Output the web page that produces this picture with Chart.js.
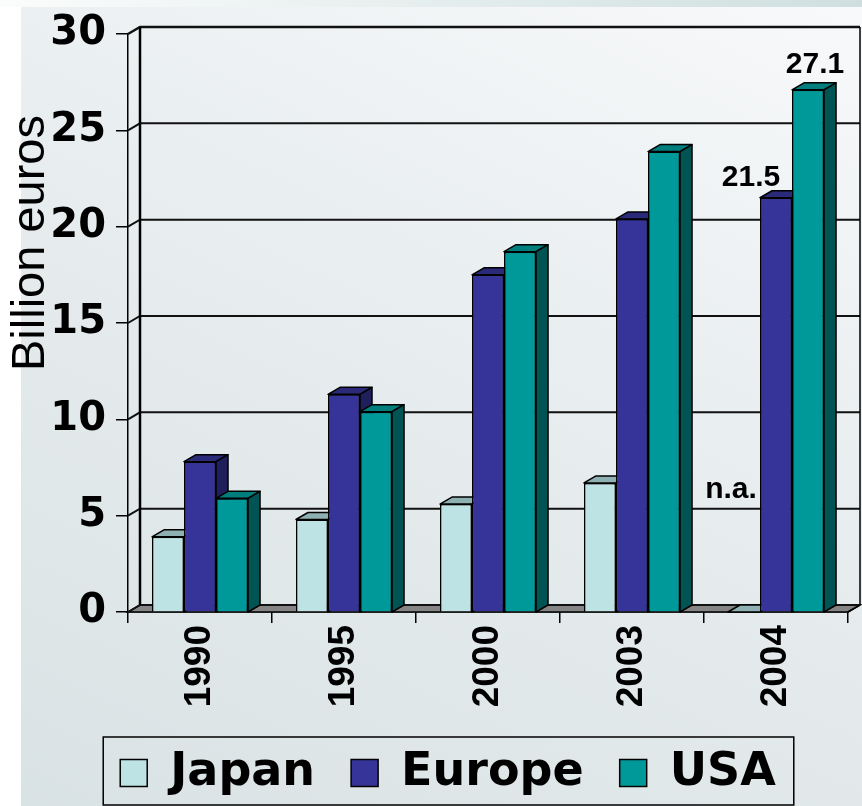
<!DOCTYPE html>
<html>
<head>
<meta charset="utf-8">
<script src="https://cdn.jsdelivr.net/npm/chart.js@4.4.1/dist/chart.umd.min.js"></script>
<style>
    html, body { margin: 0; padding: 0; background: #fff; }
    #wrap { position: relative; width: 862px; height: 806px; overflow: hidden; }
    #band { position: absolute; left: 0; top: 0; width: 862px; height: 7px; background: linear-gradient(90deg, #fbfcfc, #cfdfdf); }
    #panel { position: absolute; left: 21px; top: 7px; right: 0; bottom: 0;
        background: linear-gradient(205deg, #f8f9fa 0%, #e9eef0 40%, #d9e2e4 100%); }
    #chartBox { position: absolute; left: 0; top: 0; width: 862px; height: 806px; }
</style>
</head>
<body>
<div id="wrap">
    <div id="band"></div>
    <div id="panel"></div>
    <div id="chartBox"><canvas id="chart"></canvas></div>
</div>
<script>
years = ['1990', '1995', '2000', '2003', '2004'];
japan = [3.9, 4.8, 5.6, 6.7, null];
europe = [7.8, 11.3, 17.5, 20.4, 21.5];
usa = [5.9, 10.4, 18.7, 23.9, 27.1];
seriesNames = ['Japan', 'Europe', 'USA'];
yTitle = 'Billion euros';

frontColors = ['#bde3e5', '#363499', '#009999'];
topColors = ['#8fb0b2', '#2a2a78', '#007d7d'];
sideColors = ['#6f9092', '#1f1f5c', '#005454'];
DX = 12;
DY = 7;

boxPlugin = {
    id: 'box3d',
    afterLayout(chart) {
        var legend = chart.legend;
        legend.left += 24;
        legend.right += 24;
    },
    beforeDatasetsDraw(chart) {
        var ctx = chart.ctx, area = chart.chartArea, y = chart.scales.y;
        var y0 = y.getPixelForValue(0);
        ctx.save();
        // floor
        ctx.fillStyle = '#858585';
        ctx.strokeStyle = '#000';
        ctx.lineWidth = 1.5;
        ctx.beginPath();
        ctx.moveTo(area.left, y0);
        ctx.lineTo(area.right, y0);
        ctx.lineTo(area.right + DX, y0 - DY);
        ctx.lineTo(area.left + DX, y0 - DY);
        ctx.closePath();
        ctx.fill();
        ctx.stroke();
        // back wall grid
        y.ticks.forEach(t => {
            var py = y.getPixelForValue(t.value);
            ctx.lineWidth = t.value == 30 ? 2.5 : 2;
            ctx.strokeStyle = '#111';
            ctx.beginPath();
            ctx.moveTo(area.left, py);
            ctx.lineTo(area.left + DX, py - DY);
            ctx.lineTo(area.right + DX, py - DY);
            ctx.stroke();
        });
        ctx.lineWidth = 2.5;
        ctx.strokeStyle = '#000';
        ctx.beginPath();
        ctx.moveTo(area.left + DX, area.top - DY);
        ctx.lineTo(area.left + DX, y0 - DY);
        ctx.stroke();
        ctx.lineWidth = 1.5;
        ctx.beginPath();
        ctx.moveTo(area.right + DX, area.top - DY);
        ctx.lineTo(area.right + DX, y0 - DY);
        ctx.moveTo(area.right, y0);
        ctx.lineTo(area.right + DX, y0 - DY);
        ctx.stroke();
        ctx.restore();
    },
    afterDatasetsDraw(chart) {
        var ctx = chart.ctx, y0 = chart.scales.y.getPixelForValue(0);
        ctx.save();
        ctx.strokeStyle = '#000';
        ctx.lineWidth = 1.5;
        ctx.lineJoin = 'round';
        for (var i = 0; i < years.length; i++) {
            for (var d = 0; d < seriesNames.length; d++) {
                var bar = chart.getDatasetMeta(d).data[i];
                var left = bar.x - bar.width / 2, right = bar.x + bar.width / 2;
                var top = chart.data.datasets[d].data[i] == null ? y0 : bar.y;
                // top face
                ctx.fillStyle = topColors[d];
                ctx.beginPath();
                ctx.moveTo(left, top);
                ctx.lineTo(left + DX, top - DY);
                ctx.lineTo(right + DX, top - DY);
                ctx.lineTo(right, top);
                ctx.closePath();
                ctx.fill();
                ctx.stroke();
                if (top == y0) continue;
                // side face
                ctx.fillStyle = sideColors[d];
                ctx.beginPath();
                ctx.moveTo(right, top);
                ctx.lineTo(right + DX, top - DY);
                ctx.lineTo(right + DX, y0 - DY);
                ctx.lineTo(right, y0);
                ctx.closePath();
                ctx.fill();
                ctx.stroke();
                bar.draw(ctx);
            }
        }
        ctx.restore();
    },
    afterDraw(chart) {
        var ctx = chart.ctx, y = chart.scales.y;
        ctx.save();
        // y axis title
        ctx.fillStyle = '#000';
        ctx.font = '47px "Liberation Sans", Arial, sans-serif';
        ctx.textAlign = 'center';
        ctx.textBaseline = 'alphabetic';
        ctx.translate(44, 243);
        ctx.rotate(-Math.PI / 2);
        ctx.fillText(yTitle, 0, 0);
        ctx.restore();

        // value labels for the last year
        ctx.save();
        ctx.fillStyle = '#000';
        ctx.font = 'bold 30px "Liberation Sans", Arial, sans-serif';
        ctx.textAlign = 'center';
        ctx.textBaseline = 'alphabetic';
        var last = years.length - 1;
        var eu = chart.getDatasetMeta(1).data[last];
        var us = chart.getDatasetMeta(2).data[last];
        var jp = chart.getDatasetMeta(0).data[last];
        ctx.fillText(europe[last].toFixed(1), eu.x - 25, eu.y - 12);
        ctx.fillText(usa[last].toFixed(1), us.x + 7, us.y - 17);
        ctx.fillText(japan[last] == null ? 'n.a.' : japan[last].toFixed(1), jp.x - 13, y.getPixelForValue(0) - 114);
        ctx.restore();

        // legend frame
        var boxes = chart.legend.legendHitBoxes;
        var lx = boxes[0].left - 17;
        var rx = boxes[boxes.length - 1].left + boxes[boxes.length - 1].width + 18;
        var ty = boxes[0].top + boxes[0].height / 2 - 36;
        ctx.save();
        ctx.strokeStyle = '#000';
        ctx.lineWidth = 1.5;
        ctx.strokeRect(lx, ty, rx - lx, 805 - ty);
        ctx.restore();
    }
};

chart = new Chart(document.getElementById('chart'), {
    type: 'bar',
    data: {
        labels: years,
        datasets: [japan, europe, usa].map((values, i) => ({
            label: seriesNames[i],
            data: values,
            backgroundColor: frontColors[i],
            borderColor: '#000',
            borderWidth: 1.5,
            categoryPercentage: 0.667,
            barPercentage: 1.0
        }))
    },
    options: {
        responsive: true,
        maintainAspectRatio: false,
        animation: false,
        layout: { padding: { top: 29, right: 14, left: 0, bottom: 0 } },
        scales: {
            x: {
                grid: { offset: true, drawOnChartArea: false, tickLength: 11, color: '#000', lineWidth: 1.5 },
                border: { color: '#000', width: 1.5 },
                ticks: {
                    minRotation: 90,
                    maxRotation: 90,
                    padding: 2,
                    color: '#000',
                    font: { family: '"Liberation Sans", Arial, sans-serif', weight: 'bold', size: 37 }
                },
                afterFit: s => { s.height = 102; }
            },
            y: {
                min: 0,
                max: 30,
                ticks: {
                    stepSize: 5,
                    padding: 10,
                    color: '#000',
                    font: { family: '"DejaVu Sans", sans-serif', weight: 'bold', size: 40 }
                },
                grid: { drawOnChartArea: false, tickLength: 12, color: '#000', lineWidth: 1.5 },
                border: { color: '#000', width: 1.5 },
                afterFit: s => { s.width = 128; }
            }
        },
        plugins: {
            legend: {
                position: 'bottom',
                labels: {
                    boxWidth: 27,
                    boxHeight: 27,
                    padding: 36,
                    color: '#000',
                    font: { family: '"DejaVu Sans", sans-serif', weight: 'bold', size: 46 }
                }
            },
            tooltip: { enabled: false }
        }
    },
    plugins: [boxPlugin]
});
</script>
</body>
</html>
